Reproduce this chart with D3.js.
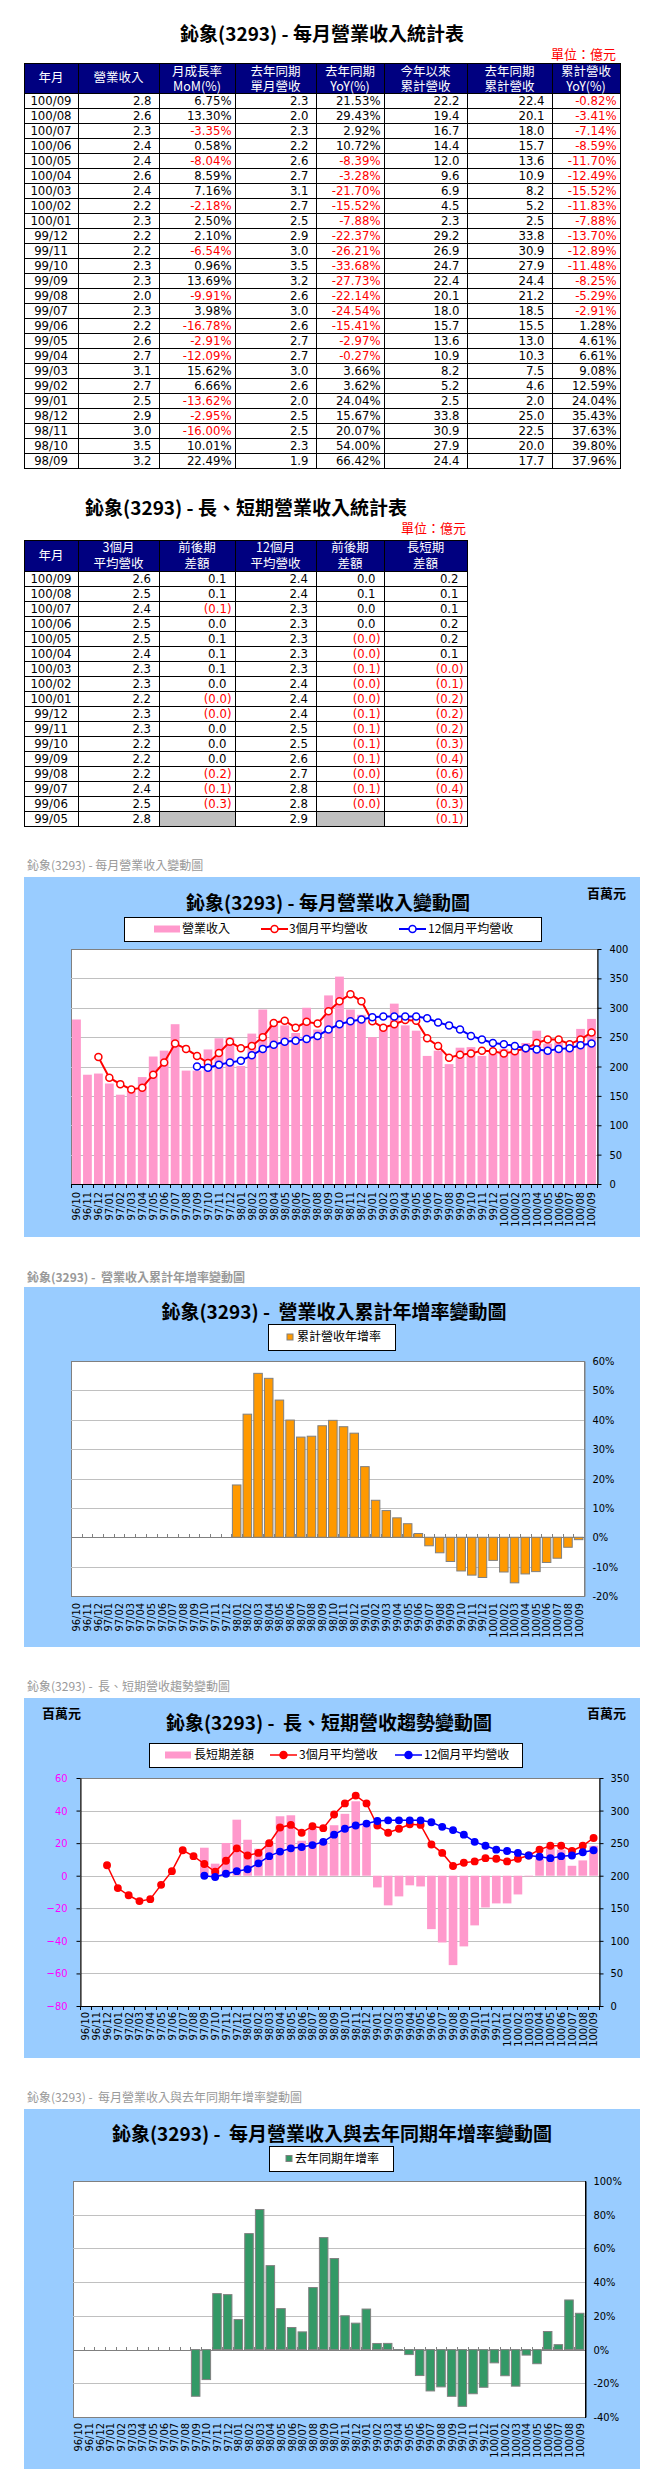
<!DOCTYPE html>
<html>
<head>
<meta charset="utf-8">
<script src="https://cdn.jsdelivr.net/npm/d3@7"></script>
<style>
  body { margin: 0; background: #fff; }
  svg text { font-family: Tahoma, "DejaVu Sans Condensed", "Liberation Sans", sans-serif; white-space: pre; }
  svg text.cjk { font-family: "Noto Sans CJK TC", "Noto Sans CJK SC", sans-serif; }
</style>
</head>
<body>
<svg id="page"></svg>
<script>
// ---------- monthly data (百萬元 / %) ----------
var months = ['96/10','96/11','96/12','97/01','97/02','97/03','97/04','97/05','97/06','97/07','97/08','97/09',
              '97/10','97/11','97/12','98/01','98/02','98/03','98/04','98/05','98/06','98/07','98/08','98/09',
              '98/10','98/11','98/12','99/01','99/02','99/03','99/04','99/05','99/06','99/07','99/08','99/09',
              '99/10','99/11','99/12','100/01','100/02','100/03','100/04','100/05','100/06','100/07','100/08','100/09'];
var revenue = [280,186,188,171,152,158,182,217,227,272,193,193,229,248,249,201,256,297,272,270,257,300,263,321,
               353,297,288,250,266,307,270,261,218,227,204,232,233,218,222,230,224,240,261,239,241,233,264,281];
var avg3 = [null,null,216,181,170,161,164,186,207,239,230,218,206,223,242,231,235,250,274,278,266,276,273,294,
            311,323,311,277,266,272,279,278,248,235,215,220,222,227,226,222,226,231,240,246,246,238,246,258];
var avg12 = [null,null,null,null,null,null,null,null,null,null,null,200,198,203,207,210,219,230,237,242,244,247,252,263,
             272,277,280,284,285,285,285,285,282,275,270,263,252,246,240,238,235,231,229,227,230,231,236,239];
var longShort = [null,null,null,null,null,null,null,null,null,null,null,17.2,7.4,20.1,34.4,22.1,16.6,21,36.5,37.1,21.5,29,21,31,
                 38,45.7,31,-7.2,-18.2,-12.7,-5.9,-6.6,-32.8,-41,-54.9,-43.4,-30.5,-19.5,-17,-17,-11.5,-0.4,10.2,18,16,6.1,9.4,18.4];
var cumYoy = [0,0,0,0,0,0,0,0,0,0,0,0,0,0,0,17.8,41.9,55.8,54.1,46.7,39.9,34.1,34.4,37.96,
              39.80,37.63,35.43,24.04,12.59,9.08,6.61,4.61,1.28,-2.91,-5.29,-8.25,-11.48,-12.89,-13.70,-7.88,-11.83,-15.52,-12.49,-11.70,-8.59,-7.14,-3.41,-0.82];
var monthYoy = [0,0,0,0,0,0,0,0,0,0,0,-27.7,-17.8,33.2,32.6,17.8,68.8,83.1,49.8,24.3,13.1,10.5,36.8,66.42,
                54.00,20.07,15.67,24.04,3.62,3.66,-0.27,-2.97,-15.41,-24.54,-22.14,-27.73,-33.68,-26.21,-22.37,-7.88,-15.52,-21.70,-3.28,-8.39,10.72,2.92,29.43,21.53];

// ---------- table 1 (億元) ----------
var t1Month = ['100/09','100/08','100/07','100/06','100/05','100/04','100/03','100/02','100/01','99/12','99/11','99/10','99/09',
               '99/08','99/07','99/06','99/05','99/04','99/03','99/02','99/01','98/12','98/11','98/10','98/09'];
var t1Rev = [2.8,2.6,2.3,2.4,2.4,2.6,2.4,2.2,2.3,2.2,2.2,2.3,2.3,2.0,2.3,2.2,2.6,2.7,3.1,2.7,2.5,2.9,3.0,3.5,3.2];
var t1Mom = [6.75,13.30,-3.35,0.58,-8.04,8.59,7.16,-2.18,2.50,2.10,-6.54,0.96,13.69,-9.91,3.98,-16.78,-2.91,-12.09,15.62,6.66,-13.62,-2.95,-16.00,10.01,22.49];
var t1PrevRev = [2.3,2.0,2.3,2.2,2.6,2.7,3.1,2.7,2.5,2.9,3.0,3.5,3.2,2.6,3.0,2.6,2.7,2.7,3.0,2.6,2.0,2.5,2.5,2.3,1.9];
var t1Yoy = [21.53,29.43,2.92,10.72,-8.39,-3.28,-21.70,-15.52,-7.88,-22.37,-26.21,-33.68,-27.73,-22.14,-24.54,-15.41,-2.97,-0.27,3.66,3.62,24.04,15.67,20.07,54.00,66.42];
var t1Ytd = [22.2,19.4,16.7,14.4,12.0,9.6,6.9,4.5,2.3,29.2,26.9,24.7,22.4,20.1,18.0,15.7,13.6,10.9,8.2,5.2,2.5,33.8,30.9,27.9,24.4];
var t1PrevYtd = [22.4,20.1,18.0,15.7,13.6,10.9,8.2,5.2,2.5,33.8,30.9,27.9,24.4,21.2,18.5,15.5,13.0,10.3,7.5,4.6,2.0,25.0,22.5,20.0,17.7];
var t1YtdYoy = [-0.82,-3.41,-7.14,-8.59,-11.70,-12.49,-15.52,-11.83,-7.88,-13.70,-12.89,-11.48,-8.25,-5.29,-2.91,1.28,4.61,6.61,9.08,12.59,24.04,35.43,37.63,39.80,37.96];

// ---------- table 2 (億元) ----------
var t2Month = ['100/09','100/08','100/07','100/06','100/05','100/04','100/03','100/02','100/01','99/12','99/11','99/10','99/09','99/08','99/07','99/06','99/05'];
var t2Avg3 = [2.6,2.5,2.4,2.5,2.5,2.4,2.3,2.3,2.2,2.3,2.3,2.2,2.2,2.2,2.4,2.5,2.8];
var t2Avg3Diff = ['0.1','0.1','(0.1)','0.0','0.1','0.1','0.1','0.0','(0.0)','(0.0)','0.0','0.0','0.0','(0.2)','(0.1)','(0.3)',null];
var t2Avg12 = [2.4,2.4,2.3,2.3,2.3,2.3,2.3,2.4,2.4,2.4,2.5,2.5,2.6,2.7,2.8,2.8,2.9];
var t2Avg12Diff = ['0.0','0.1','0.0','0.0','(0.0)','(0.0)','(0.1)','(0.0)','(0.0)','(0.1)','(0.1)','(0.1)','(0.1)','(0.0)','(0.1)','(0.0)',null];
var t2LongShort = ['0.2','0.1','0.1','0.2','0.2','0.1','(0.0)','(0.1)','(0.2)','(0.2)','(0.2)','(0.3)','(0.4)','(0.6)','(0.4)','(0.3)','(0.1)'];

var svg = d3.select('#page').attr('width', 661).attr('height', 2480);

function txt(g, x, y, s, size, opt) {
  opt = opt || {};
  return g.append('text').attr('class', opt.cjk ? 'cjk' : null)
    .attr('x', x).attr('y', y).attr('dy', opt.dy || '0.35em')
    .attr('text-anchor', opt.anchor || 'start')
    .attr('font-size', size)
    .attr('font-weight', opt.bold ? 'bold' : 'normal')
    .attr('fill', opt.color || '#000')
    .text(s);
}

// ---------- tables ----------
function drawTable(cfg) {
  var g = svg.append('g');
  var cols = cfg.cols, top = cfg.top, hh = cfg.headH, rh = 15;
  var n = cfg.rows.length, left = cols[0], right = cols[cols.length - 1];
  g.append('rect').attr('x', left).attr('y', top).attr('width', right - left).attr('height', hh).attr('fill', '#000080');

  cfg.rows.forEach(function(row, i) {
    var y0 = top + hh + i * rh;
    row.forEach(function(c, j) {
      if (c.t == null) {
        g.append('rect').attr('x', cols[j]).attr('y', y0).attr('width', cols[j + 1] - cols[j]).attr('height', rh).attr('fill', '#C0C0C0');
        return;
      }
      var center = c.align === 'middle';
      g.append('text').attr('x', center ? (cols[j] + cols[j + 1]) / 2 : cols[j + 1] - c.pad)
        .attr('y', y0 + 12).attr('text-anchor', center ? 'middle' : 'end')
        .attr('font-size', 13).attr('fill', c.red ? '#FF0000' : '#000').text(c.t);
    });
  });

  var hl = [top].concat(d3.range(n + 1).map(function(i) { return top + hh + i * rh; }));
  g.selectAll('line.h').data(hl).join('line').attr('class', 'h')
    .attr('x1', left).attr('x2', right + 1).attr('y1', function(d) { return d + 0.5; }).attr('y2', function(d) { return d + 0.5; })
    .attr('stroke', '#000');
  g.selectAll('line.v').data(cols).join('line').attr('class', 'v')
    .attr('x1', function(d) { return d + 0.5; }).attr('x2', function(d) { return d + 0.5; })
    .attr('y1', top).attr('y2', top + hh + n * rh + 1).attr('stroke', '#000');

  cfg.heads.forEach(function(h, j) {
    var cx = (cols[j] + cols[j + 1]) / 2;
    var lines = h.split('\n');
    lines.forEach(function(s, k) {
      var y = lines.length === 1 ? cfg.hy : cfg.hyl[k];
      txt(g, cx, y, s, 12.5, { cjk: true, anchor: 'middle', color: '#fff' });
    });
  });
}

function pct(v) { return v.toFixed(2) + '%'; }
var cols = [24, 78, 159, 235, 316, 384, 467, 552, 620];

txt(svg, 322, 34, '鈊象(3293) - 每月營業收入統計表', 19, { cjk: true, bold: true, anchor: 'middle' });
txt(svg, 616, 54, '單位：億元', 13, { cjk: true, anchor: 'end', color: '#FF0000' });
drawTable({
  cols: cols, top: 63, headH: 30, hy: 78, hyl: [71.5, 87],
  heads: ['年月', '營業收入', '月成長率\nMoM(%)', '去年同期\n單月營收', '去年同期\nYoY(%)', '今年以來\n累計營收', '去年同期\n累計營收', '累計營收\nYoY(%)'],
  rows: t1Month.map(function(m, i) {
    return [
      { t: m, align: 'middle' },
      { t: t1Rev[i].toFixed(1), pad: 7.5 },
      { t: pct(t1Mom[i]), pad: 3.5, red: t1Mom[i] < 0 },
      { t: t1PrevRev[i].toFixed(1), pad: 7.5 },
      { t: pct(t1Yoy[i]), pad: 3.5, red: t1Yoy[i] < 0 },
      { t: t1Ytd[i].toFixed(1), pad: 7.5 },
      { t: t1PrevYtd[i].toFixed(1), pad: 7.5 },
      { t: pct(t1YtdYoy[i]), pad: 3.5, red: t1YtdYoy[i] < 0 }
    ];
  })
});

function diffCell(s) {
  if (s == null) return { t: null };
  var neg = s.charAt(0) === '(';
  return { t: s, pad: neg ? 3.5 : 8.5, red: neg };
}
txt(svg, 246, 508, '鈊象(3293) - 長、短期營業收入統計表', 19, { cjk: true, bold: true, anchor: 'middle' });
txt(svg, 466, 528, '單位：億元', 13, { cjk: true, anchor: 'end', color: '#FF0000' });
drawTable({
  cols: cols.slice(0, 6).concat([467]), top: 540, headH: 31, hy: 555.5, hyl: [548, 563.5],
  heads: ['年月', '3個月\n平均營收', '前後期\n差額', '12個月\n平均營收', '前後期\n差額', '長短期\n差額'],
  rows: t2Month.map(function(m, i) {
    return [
      { t: m, align: 'middle' },
      { t: t2Avg3[i].toFixed(1), pad: 8 },
      diffCell(t2Avg3Diff[i]),
      { t: t2Avg12[i].toFixed(1), pad: 8 },
      diffCell(t2Avg12Diff[i]),
      diffCell(t2LongShort[i])
    ];
  })
});

// ---------- chart helpers ----------
function frame(boxTop, capY, cap, capBold, title, tx, ty) {
  txt(svg, 27, capY, cap, 12, { cjk: true, color: '#999', bold: capBold });
  svg.append('rect').attr('x', 24).attr('y', boxTop).attr('width', 616).attr('height', 360).attr('fill', '#99CCFF');
  txt(svg, tx, ty, title, 19, { cjk: true, bold: true, anchor: 'middle' });
}

function legend(x0, y0, x1, y1, items) {
  var g = svg.append('g');
  g.append('rect').attr('x', x0 + 0.5).attr('y', y0 + 0.5).attr('width', x1 - x0).attr('height', y1 - y0)
    .attr('fill', '#fff').attr('stroke', '#000');
  var cy = (y0 + y1) / 2;
  items.forEach(function(it) {
    if (it.type === 'bar') {
      g.append('rect').attr('x', it.x).attr('y', cy - it.h / 2).attr('width', it.w).attr('height', it.h)
        .attr('fill', it.color).attr('stroke', it.stroke || 'none');
    } else {
      g.append('line').attr('x1', it.x).attr('x2', it.x + 27).attr('y1', cy).attr('y2', cy)
        .attr('stroke', it.color).attr('stroke-width', it.sw);
      g.append('circle').attr('cx', it.x + 13.5).attr('cy', cy).attr('r', 3.5)
        .attr('fill', it.dot).attr('stroke', it.color).attr('stroke-width', 1.5);
    }
    txt(g, it.tx, cy, it.label, 12, { cjk: true });
  });
}

function band(l, r) {
  return d3.scaleBand().domain(months).range([l, r]).paddingInner(0.2).paddingOuter(0.1);
}

function plotArea(l, t, r, b) {
  svg.append('rect').attr('x', l + 0.5).attr('y', t + 0.5).attr('width', r - l).attr('height', b - t)
    .attr('fill', '#fff').attr('stroke', '#808080');
}

function grid(y, vals, l, r, color) {
  svg.append('g').selectAll('line').data(vals).join('line')
    .attr('x1', l).attr('x2', r)
    .attr('y1', function(d) { return Math.round(y(d)) + 0.5; })
    .attr('y2', function(d) { return Math.round(y(d)) + 0.5; })
    .attr('stroke', color || '#C0C0C0');
}

function catTicks(x, y0, len, color) {
  var step = x.step();
  var pos = months.map(function(d) { return x(d) - step * 0.1; }).concat([x.range()[1]]);
  svg.append('g').selectAll('line').data(pos).join('line')
    .attr('x1', function(d) { return Math.round(d) + 0.5; })
    .attr('x2', function(d) { return Math.round(d) + 0.5; })
    .attr('y1', y0).attr('y2', y0 + len).attr('stroke', color);
}

// category labels read bottom-to-top, aligned on their top end
function xLabels(x, top) {
  svg.append('g').selectAll('text').data(months).join('text')
    .attr('transform', function(d) { return 'translate(' + (x(d) + x.bandwidth() / 2) + ',' + top + ') rotate(-90)'; })
    .attr('text-anchor', 'end')
    .attr('dy', '0.35em').attr('font-size', 11).text(function(d) { return d; });
}

function styleAxis(g, color, lineColor) {
  g.selectAll('text').attr('font-size', 11).attr('fill', color || '#000')
    .style('font-family', 'Tahoma, "DejaVu Sans Condensed", "Liberation Sans", sans-serif');
  g.selectAll('line').attr('stroke', lineColor || '#000');
  g.select('.domain').attr('stroke', lineColor || '#000');
}

function series(x, y, vals, color, sw, dotFill, r) {
  var g = svg.append('g');
  var line = d3.line().defined(function(d) { return d != null; })
    .x(function(d, i) { return x(months[i]) + x.bandwidth() / 2; })
    .y(function(d) { return y(d); });
  g.append('path').datum(vals).attr('d', line).attr('fill', 'none').attr('stroke', color).attr('stroke-width', sw);
  g.selectAll('circle').data(vals.map(function(v, i) { return { v: v, m: months[i] }; }).filter(function(d) { return d.v != null; }))
    .join('circle')
    .attr('cx', function(d) { return x(d.m) + x.bandwidth() / 2; })
    .attr('cy', function(d) { return y(d.v); })
    .attr('r', r).attr('fill', dotFill).attr('stroke', color).attr('stroke-width', 1.5);
}

function signedBars(x, y, vals, fill, stroke) {
  svg.append('g').selectAll('rect').data(vals.map(function(v, i) { return { v: v, m: months[i] }; }).filter(function(d) { return d.v != null; }))
    .join('rect')
    .attr('x', function(d) { return x(d.m); })
    .attr('width', x.bandwidth())
    .attr('y', function(d) { return Math.min(y(0), y(d.v)); })
    .attr('height', function(d) { return Math.abs(y(d.v) - y(0)); })
    .attr('fill', fill).attr('stroke', stroke || 'none');
}

// ---------- chart 1: monthly revenue ----------
(function() {
  var l = 71, r = 597, t = 949, b = 1184;
  frame(877, 866, '鈊象(3293) - 每月營業收入變動圖', false, '鈊象(3293) - 每月營業收入變動圖', 328, 903);
  txt(svg, 626, 893, '百萬元', 13, { cjk: true, bold: true, anchor: 'end' });
  legend(124, 917, 541, 941, [
    { type: 'bar', x: 154, w: 26, h: 7, color: '#FF99CC', tx: 182, label: '營業收入' },
    { type: 'line', x: 261, color: '#FF0000', sw: 2, dot: '#fff', tx: 289, label: '3個月平均營收' },
    { type: 'line', x: 399, color: '#0000FF', sw: 2, dot: '#fff', tx: 428, label: '12個月平均營收' }
  ]);
  plotArea(l, t, r, b);
  var x = band(l, r);
  var y = d3.scaleLinear().domain([0, 400]).range([b, t]);
  grid(y, d3.range(50, 400, 50), l, r);
  signedBars(x, y, revenue, '#FF99CC');
  series(x, y, avg3, '#FF0000', 2, '#fff', 3.5);
  series(x, y, avg12, '#0000FF', 2, '#fff', 3.5);
  svg.append('line').attr('x1', l).attr('x2', r).attr('y1', b + 0.5).attr('y2', b + 0.5).attr('stroke', '#000');
  catTicks(x, b, 4, '#000');
  var ax = svg.append('g').attr('transform', 'translate(' + (r + 0.5) + ',0)')
    .call(d3.axisRight(y).tickValues(d3.range(0, 401, 50)).tickSize(4).tickSizeOuter(0).tickPadding(8));
  styleAxis(ax);
  xLabels(x, b + 8);
})();

// ---------- chart 2: cumulative YoY ----------
(function() {
  var l = 71, r = 584, t = 1361, b = 1596;
  frame(1287, 1278, '鈊象(3293) -  營業收入累計年增率變動圖', true, '鈊象(3293) -  營業收入累計年增率變動圖', 334, 1312);
  legend(268, 1324, 395, 1350, [
    { type: 'bar', x: 287, w: 6, h: 6, color: '#FF9900', stroke: '#808080', tx: 297, label: '累計營收年增率' }
  ]);
  plotArea(l, t, r, b);
  var x = band(l, r);
  var y = d3.scaleLinear().domain([-20, 60]).range([b, t]);
  grid(y, [-10, 10, 20, 30, 40, 50], l, r);
  grid(y, [0], l, r, '#808080');
  catTicks(x, Math.round(y(0)) - 3, 3, '#808080');
  signedBars(x, y, cumYoy, '#FF9900', '#808080');
  var ax = svg.append('g').attr('transform', 'translate(' + (r + 0.5) + ',0)')
    .call(d3.axisRight(y).tickValues(d3.range(-20, 61, 10)).tickSize(0).tickPadding(8).tickFormat(function(d) { return d + '%'; }));
  styleAxis(ax, '#000', '#808080');
  xLabels(x, b + 7);
})();

// ---------- chart 3: long / short term trend ----------
(function() {
  var l = 80, r = 599, t = 1778, b = 2006;
  frame(1698, 1687, '鈊象(3293) -  長、短期營收趨勢變動圖', false, '鈊象(3293) -  長、短期營收趨勢變動圖', 329, 1723);
  txt(svg, 42, 1713, '百萬元', 13, { cjk: true, bold: true });
  txt(svg, 626, 1713, '百萬元', 13, { cjk: true, bold: true, anchor: 'end' });
  legend(149, 1743, 522, 1767, [
    { type: 'bar', x: 165, w: 26, h: 7, color: '#FF99CC', tx: 194, label: '長短期差額' },
    { type: 'line', x: 270, color: '#FF0000', sw: 1.5, dot: '#FF0000', tx: 299, label: '3個月平均營收' },
    { type: 'line', x: 395, color: '#0000FF', sw: 1.5, dot: '#0000FF', tx: 424, label: '12個月平均營收' }
  ]);
  plotArea(l, t, r, b);
  var x = band(l, r);
  var yL = d3.scaleLinear().domain([-80, 60]).range([b, t]);
  var yR = d3.scaleLinear().domain([0, 350]).range([b, t]);
  grid(yL, [-60, -40, -20, 0, 20, 40], l, r);
  signedBars(x, yL, longShort, '#FF99CC');
  series(x, yR, avg3, '#FF0000', 1.5, '#FF0000', 3.2);
  series(x, yR, avg12, '#0000FF', 1.5, '#0000FF', 3.2);
  svg.append('line').attr('x1', l).attr('x2', r).attr('y1', b + 0.5).attr('y2', b + 0.5).attr('stroke', '#000');
  catTicks(x, b, 4, '#000');
  var axL = svg.append('g').attr('transform', 'translate(' + (l + 0.5) + ',0)')
    .call(d3.axisLeft(yL).tickValues(d3.range(-80, 61, 20)).tickSize(4).tickSizeOuter(0).tickPadding(9));
  styleAxis(axL, '#FF00FF');
  var axR = svg.append('g').attr('transform', 'translate(' + (r + 0.5) + ',0)')
    .call(d3.axisRight(yR).tickValues(d3.range(0, 351, 50)).tickSize(4).tickSizeOuter(0).tickPadding(7));
  styleAxis(axR);
  xLabels(x, b + 6);
})();

// ---------- chart 4: monthly YoY ----------
(function() {
  var l = 73, r = 585, t = 2181, b = 2417;
  frame(2109, 2098, '鈊象(3293) -  每月營業收入與去年同期年增率變動圖', false, '鈊象(3293) -  每月營業收入與去年同期年增率變動圖', 332, 2134);
  legend(269, 2146, 393, 2171, [
    { type: 'bar', x: 286, w: 6, h: 6, color: '#339966', stroke: '#808080', tx: 295, label: '去年同期年增率' }
  ]);
  plotArea(l, t, r, b);
  var x = band(l, r);
  var y = d3.scaleLinear().domain([-40, 100]).range([b, t]);
  grid(y, [-20, 20, 40, 60, 80], l, r);
  grid(y, [0], l, r, '#808080');
  catTicks(x, Math.round(y(0)) - 3, 3, '#808080');
  signedBars(x, y, monthYoy, '#339966', '#808080');
  svg.append('line').attr('x1', r + 0.5).attr('x2', r + 0.5).attr('y1', t).attr('y2', b + 1).attr('stroke', '#000');
  var ax = svg.append('g').attr('transform', 'translate(' + (r + 0.5) + ',0)')
    .call(d3.axisRight(y).tickValues(d3.range(-40, 101, 20)).tickSize(0).tickPadding(8).tickFormat(function(d) { return d + '%'; }));
  styleAxis(ax);
  xLabels(x, b + 6);
})();
</script>
</body>
</html>
